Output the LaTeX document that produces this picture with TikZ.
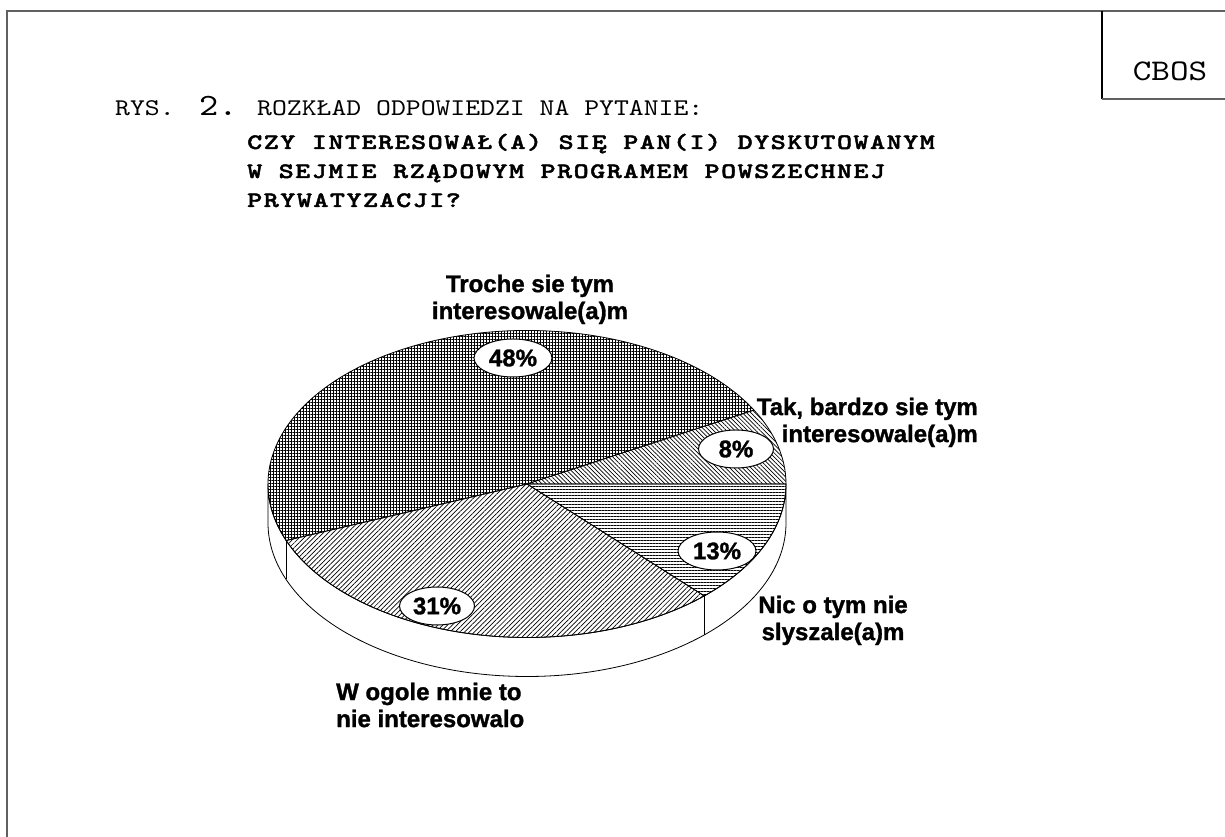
\documentclass[tikz,border=0pt]{standalone}
\usepackage{fontspec}
\usetikzlibrary{patterns.meta,calc,shapes.geometric}
\newfontfamily\labfont{Liberation Sans}[BoldFeatures={FakeBold=1.3}]
\newfontfamily\hdrfont{lmmono10-regular.otf}[FakeStretch=1.18]
\newfontfamily\hdrbold{lmmonolt10-bold.otf}[LetterSpace=7, FakeStretch=1.3, FakeBold=2]
\begin{document}
\begin{tikzpicture}[x=1pt,y=1pt,
  lab/.style={font=\labfont\bfseries\fontsize{24}{27}\selectfont, inner sep=0pt},
  pct/.style={draw, fill=white, ellipse, line width=1pt, minimum width=78pt, minimum height=38pt, inner sep=0pt, font=\labfont\bfseries\fontsize{24}{27}\selectfont},
  frameline/.style={draw=gray!75!black, line width=1.6pt},
  edge/.style={line width=0.8pt},
  hdr/.style={anchor=base west, inner sep=0pt},
  pie/.style={x radius=259pt, y radius=153.5pt}
]
\useasboundingbox (0,0) rectangle (1225,837);
% frame
\coordinate (tl) at (7,826);
\coordinate (tr) at (1225,826);
\coordinate (bl) at (7,0);
\draw[frameline] (tr) -- (tl) -- (bl);
\coordinate (b1) at (1102,826);
\coordinate (b2) at (1102,738);
\coordinate (b3) at (1225,738);
\draw[line width=1.2pt] (b1) -- (b2);
\draw[frameline] (b2) -- (b3);
\node[font=\hdrfont\fontsize{30}{30}\selectfont, anchor=base, inner sep=0pt] (cbos) at (1170,756) {CBOS};
% header
\node[hdr, font=\hdrfont\fontsize{24}{24}\selectfont] (rys) at (115,721) {RYS.};
\node[hdr, font=\hdrfont\fontsize{31}{31}\selectfont] (two) at (199,721) {2.};
\node[hdr, font=\hdrfont\fontsize{24}{24}\selectfont] (q0) at (257,721) {ROZKŁAD ODPOWIEDZI NA PYTANIE:};
\node[hdr, font=\hdrbold\fontsize{22}{22}\selectfont] (q1) at (247,688) {CZY INTERESOWAŁ(A) SIĘ PAN(I) DYSKUTOWANYM};
\node[hdr, font=\hdrbold\fontsize{22}{22}\selectfont] (q2) at (247,659) {W SEJMIE RZĄDOWYM PROGRAMEM POWSZECHNEJ};
\node[hdr, font=\hdrbold\fontsize{22}{22}\selectfont] (q3) at (247,630) {PRYWATYZACJI?};
% pie
\coordinate (c) at (527,353);
\coordinate (e180) at ($(c)+(180:259pt and 153.5pt)$);
\coordinate (e0) at ($(c)+(0:259pt and 153.5pt)$);
\coordinate (e28) at ($(c)+(28.8:259pt and 153.5pt)$);
\coordinate (v1) at ($(c)+(201.6:259pt and 153.5pt)$);
\coordinate (v2) at ($(c)+(313.2:259pt and 153.5pt)$);
\draw[edge, fill=white] (e180) -- ++(0,-39)
  arc[pie, start angle=180, end angle=360] -- ++(0,39)
  arc[pie, start angle=0, end angle=-180] -- cycle;
\draw[edge] (v1) -- ++(0,-39);
\draw[edge] (v2) -- ++(0,-39);
\draw[edge, pattern={Hatch[angle=0,distance=3pt,line width=0.9pt]}] (c) -- (e28)
  arc[pie, start angle=28.8, end angle=201.6] -- cycle;
\draw[edge, pattern={Lines[angle=45,distance=3.4pt,line width=0.7pt]}] (c) -- (v1)
  arc[pie, start angle=201.6, end angle=313.2] -- cycle;
\draw[edge, pattern={Lines[angle=0,distance=3pt,line width=0.7pt]}] (c) -- (v2)
  arc[pie, start angle=313.2, end angle=360] -- cycle;
\draw[edge, pattern={Lines[angle=-45,distance=3pt,line width=0.7pt]}] (c) -- (e0)
  arc[pie, start angle=0, end angle=28.8] -- cycle;
% percentage labels
\node[pct] (p48) at (513,479) {48\%};
\node[pct, minimum width=75pt] (p8) at (736,388) {8\%};
\node[pct] (p13) at (717,286) {13\%};
\node[pct, minimum width=75pt] (p31) at (437,231) {31\%};
% category labels
\node[lab, align=center, anchor=north] (l48) at (530,562.5) {Troche sie tym\\interesowale(a)m};
\node[lab, align=right, anchor=north east] (l8) at (978,439.5) {Tak, bardzo sie tym\\interesowale(a)m};
\node[lab, align=center, anchor=north] (l13) at (833,241.5) {Nic o tym nie\\slyszale(a)m};
\node[lab, align=left, anchor=north west] (l31) at (336,154.5) {W ogole mnie to\\nie interesowalo};
\end{tikzpicture}
\end{document}
